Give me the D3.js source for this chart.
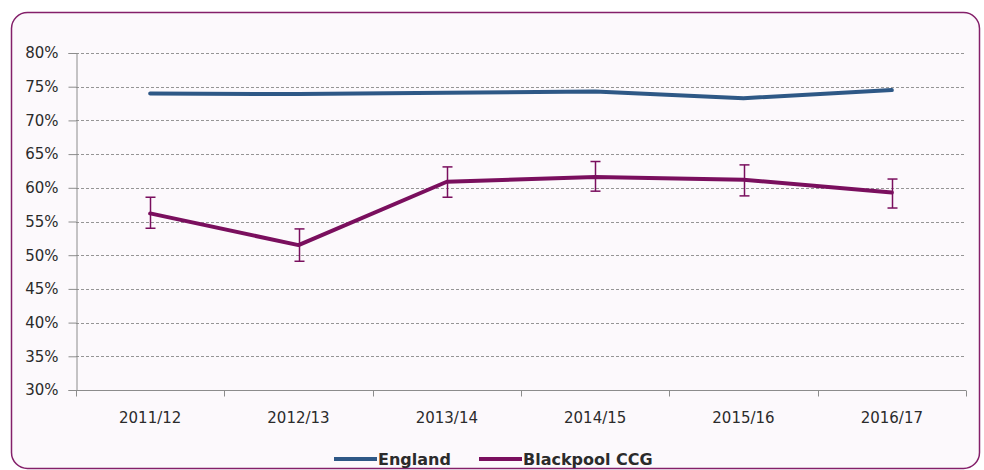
<!DOCTYPE html>
<html>
<head>
<meta charset="utf-8">
<script src="https://cdn.jsdelivr.net/npm/d3@7/dist/d3.min.js"></script>
<style>
  html, body { margin: 0; padding: 0; background: #ffffff; }
  svg { display: block; }
  text { font-family: "DejaVu Sans", Verdana, sans-serif; fill: #2b2b2b; }
</style>
</head>
<body>
<svg id="chart" width="984" height="470"></svg>
<script>
// Financial years on the category axis
const years = ["2011/12", "2012/13", "2013/14", "2014/15", "2015/16", "2016/17"];
// Percentages for each year
const england = [74.0, 73.9, 74.1, 74.3, 73.3, 74.5];
const blackpool = [56.2, 51.5, 60.9, 61.6, 61.2, 59.3];
// 95% confidence interval bounds for Blackpool CCG
const blackpoolLower = [54.0, 49.1, 58.6, 59.5, 58.8, 57.0];
const blackpoolUpper = [58.6, 53.9, 63.1, 63.9, 63.4, 61.3];
const yTicks = [30, 35, 40, 45, 50, 55, 60, 65, 70, 75, 80];
const seriesNames = ["England", "Blackpool CCG"];
const seriesColors = ["#2e5886", "#7a0f5e"];

const svg = d3.select("#chart");

// Rounded outer frame
svg.append("rect")
  .attr("x", 11.5).attr("y", 12.5)
  .attr("width", 968).attr("height", 456)
  .attr("rx", 16).attr("ry", 16)
  .attr("fill", "#fcf9fc")
  .attr("stroke", "#84206a")
  .attr("stroke-width", 1.5);

const plot = { left: 76, right: 966, top: 53, bottom: 390 };

const x = d3.scaleBand().domain(years).range([plot.left, plot.right]).padding(0);
const y = d3.scaleLinear().domain([30, 80]).range([plot.bottom, plot.top]);
const cx = d => x(d) + x.bandwidth() / 2;

// Horizontal dashed gridlines
svg.append("g")
  .selectAll("line")
  .data(yTicks.filter(t => t > 30))
  .join("line")
  .attr("x1", plot.left).attr("x2", plot.right)
  .attr("y1", d => Math.round(y(d)) + 0.5).attr("y2", d => Math.round(y(d)) + 0.5)
  .attr("stroke", "#959595")
  .attr("stroke-width", 1)
  .attr("stroke-dasharray", "3,2");

// Y axis
const yAxis = d3.axisLeft(y)
  .tickValues(yTicks)
  .tickFormat(d => d + "%")
  .tickSize(8)
  .tickPadding(10);
const gy = svg.append("g")
  .attr("transform", `translate(${plot.left + 0.5},0)`)
  .call(yAxis);
gy.select(".domain").attr("stroke", "#8c8c8c");
gy.selectAll(".tick line").attr("stroke", "#8c8c8c");
gy.selectAll(".tick text")
  .attr("font-size", 15)
  .attr("font-family", "DejaVu Sans, Verdana, sans-serif")
  .attr("fill", "#2b2b2b");

// X axis with ticks at category boundaries
const gx = svg.append("g")
  .attr("transform", `translate(0,${plot.bottom + 0.5})`);
gx.append("line")
  .attr("x1", plot.left).attr("x2", plot.right)
  .attr("stroke", "#8c8c8c");
const boundaries = years.map(d => x(d)).concat([x(years[years.length - 1]) + x.bandwidth()]);
gx.selectAll("line.tick")
  .data(boundaries)
  .join("line")
  .attr("class", "tick")
  .attr("x1", d => Math.round(d) + 0.5).attr("x2", d => Math.round(d) + 0.5)
  .attr("y1", 0).attr("y2", 6)
  .attr("stroke", "#8c8c8c");
gx.selectAll("text")
  .data(years)
  .join("text")
  .attr("x", d => cx(d))
  .attr("y", 32)
  .attr("text-anchor", "middle")
  .attr("font-size", 15)
  .text(d => d);

// England line
const line = d3.line().x((d, i) => cx(years[i])).y(d => y(d));
svg.append("path")
  .datum(england)
  .attr("d", line)
  .attr("fill", "none")
  .attr("stroke", seriesColors[0])
  .attr("stroke-width", 4)
  .attr("stroke-linecap", "round")
  .attr("stroke-linejoin", "round");

// Blackpool CCG line
svg.append("path")
  .datum(blackpool)
  .attr("d", line)
  .attr("fill", "none")
  .attr("stroke", seriesColors[1])
  .attr("stroke-width", 4)
  .attr("stroke-linecap", "round")
  .attr("stroke-linejoin", "round");

// Confidence interval error bars
const err = svg.append("g")
  .attr("stroke", seriesColors[1])
  .attr("stroke-width", 1.5)
  .attr("fill", "none");
years.forEach((yr, i) => {
  const px = Math.round(cx(yr)) + 0.5;
  err.append("line")
    .attr("x1", px).attr("x2", px)
    .attr("y1", y(blackpoolUpper[i])).attr("y2", y(blackpoolLower[i]));
  [blackpoolUpper[i], blackpoolLower[i]].forEach(v => {
    err.append("line")
      .attr("x1", px - 5).attr("x2", px + 5)
      .attr("y1", y(v)).attr("y2", y(v));
  });
});

// Legend
const legend = svg.append("g").attr("transform", "translate(0,459)");
const legendItems = [
  { name: seriesNames[0], color: seriesColors[0], x: 334 },
  { name: seriesNames[1], color: seriesColors[1], x: 479 }
];
legendItems.forEach(item => {
  legend.append("line")
    .attr("x1", item.x).attr("x2", item.x + 43)
    .attr("y1", 0).attr("y2", 0)
    .attr("stroke", item.color)
    .attr("stroke-width", 4);
  legend.append("text")
    .attr("x", item.x + 44)
    .attr("y", 6)
    .attr("font-size", 16)
    .attr("font-weight", "bold")
    .text(item.name);
});
</script>
</body>
</html>
